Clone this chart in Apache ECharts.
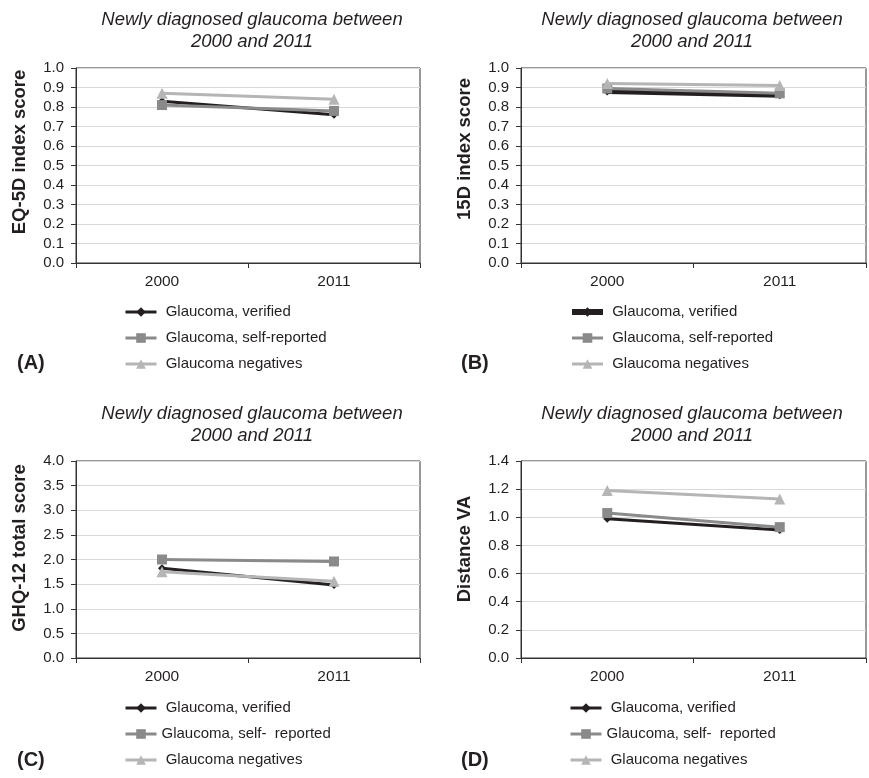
<!DOCTYPE html>
<html><head><meta charset="utf-8">
<script src="https://cdn.jsdelivr.net/npm/echarts@6/dist/echarts.min.js"></script>
<style>html,body{margin:0;padding:0;background:#fff}#c{width:869px;height:778px}</style>
</head><body><div id="c"></div>
<script>
const years = ['2000', '2011'];
const seriesNames = ['Glaucoma, verified', 'Glaucoma, self-reported', 'Glaucoma negatives'];
const legendLabelsAB = [' Glaucoma, verified', ' Glaucoma, self-reported', ' Glaucoma negatives'];
const legendLabelsCD = [' Glaucoma, verified', 'Glaucoma, self-  reported', ' Glaucoma negatives'];
const panelLabels = ['(A)', '(B)', '(C)', '(D)'];
const yTitles = ['EQ-5D index score', '15D index score', 'GHQ-12 total score', 'Distance VA'];
const chartTitle = 'Newly diagnosed glaucoma between\n2000 and 2011';

// Panel A: EQ-5D
const eq5dVerified = [0.83, 0.76];
const eq5dSelf = [0.81, 0.78];
const eq5dNeg = [0.87, 0.84];
// Panel B: 15D
const d15Verified = [0.88, 0.86];
const d15Self = [0.895, 0.87];
const d15Neg = [0.92, 0.91];
// Panel C: GHQ-12
const ghqVerified = [1.82, 1.48];
const ghqSelf = [2.0, 1.96];
const ghqNeg = [1.75, 1.56];
// Panel D: Distance VA
const vaVerified = [0.99, 0.91];
const vaSelf = [1.03, 0.93];
const vaNeg = [1.19, 1.13];

const yMax = [1.0, 1.0, 4.0, 1.4];
const yInterval = [0.1, 0.1, 0.5, 0.2];

const panelData = [
  [eq5dVerified, eq5dSelf, eq5dNeg],
  [d15Verified, d15Self, d15Neg],
  [ghqVerified, ghqSelf, ghqNeg],
  [vaVerified, vaSelf, vaNeg]
];

const FONT = 'Liberation Sans, Arial, sans-serif';
const TXT = '#231f20';
const colors = ['#231f20', '#8a8a8a', '#b5b5b5'];
const symbols = ['diamond', 'rect', 'triangle'];
const symbolSizes = [8, 10, 11];

const grids = [
  {left: 76, top: 68, width: 344, height: 195},
  {left: 521, top: 68, width: 345, height: 195},
  {left: 76, top: 461, width: 344, height: 197},
  {left: 521, top: 461, width: 345, height: 197}
];
const legendPos = [
  {left: 124, top: 304},
  {left: 569, top: 304},
  {left: 124, top: 700},
  {left: 569, top: 700}
];
const titlePos = [[252, 20], [692, 20], [252, 414], [692, 414]];
const yNamePos = [[20, 152], [465, 149], [20, 548], [465, 549]];
const panelLabelPos = [[17, 363], [461, 363], [17, 760], [461, 760]];

const lineW = (i, k) => (i === 1 && k === 0) ? 5 : 3;

const option = {
  animation: false,
  backgroundColor: '#fff',
  grid: grids.map(g => Object.assign({show: true, borderColor: '#333', borderWidth: 1, backgroundColor: 'transparent'}, g)),
  xAxis: grids.map((g, i) => ({
    type: 'category', gridIndex: i, data: years, boundaryGap: true,
    axisLine: {lineStyle: {color: '#333', width: 1}},
    axisTick: {show: true, length: 5, lineStyle: {color: '#333'}},
    axisLabel: {color: TXT, fontSize: 15.5, fontFamily: FONT, margin: 11},
    splitLine: {show: false}
  })),
  yAxis: grids.map((g, i) => ({
    type: 'value', gridIndex: i, min: 0, max: yMax[i], interval: yInterval[i],
    axisLine: {show: true, lineStyle: {color: '#333', width: 1}},
    axisTick: {show: true, length: 5, lineStyle: {color: '#333'}},
    axisLabel: {color: TXT, fontSize: 15, fontFamily: FONT, margin: 12,
      formatter: v => v.toFixed(1)},
    splitLine: {show: true, lineStyle: {color: '#d9d9d9', width: 1}}
  })),
  legend: grids.map((g, i) => ({
    orient: 'vertical', left: legendPos[i].left, top: legendPos[i].top,
    padding: 0, itemGap: 10, itemWidth: 31, itemHeight: 12,
    data: seriesNames.map((n, k) => ({
      name: panelLabels[i] + '::' + n,
      lineStyle: {width: (i === 1 && k === 0) ? 6 : 3, color: colors[k]},
      itemStyle: {color: colors[k]}
    })),
    formatter: name => {
      const k = seriesNames.indexOf(name.split('::')[1]);
      return (i < 2 ? legendLabelsAB : legendLabelsCD)[k];
    },
    textStyle: {color: TXT, fontSize: 15, fontFamily: FONT, lineHeight: 16},
    selectedMode: false
  })),
  series: [],
  graphic: []
};

panelData.forEach((arrs, i) => {
  arrs.forEach((vals, k) => {
    option.series.push({
      type: 'line', name: panelLabels[i] + '::' + seriesNames[k],
      xAxisIndex: i, yAxisIndex: i, data: vals,
      symbol: symbols[k], symbolSize: symbolSizes[k], showSymbol: true,
      lineStyle: {color: colors[k], width: lineW(i, k)},
      itemStyle: {color: colors[k]},
      z: 2 + k
    });
  });
  option.graphic.push({
    type: 'text', x: titlePos[i][0], y: titlePos[i][1] + 10.75,
    style: {text: chartTitle, fill: TXT, font: 'italic 18.5px ' + FONT,
      align: 'center', verticalAlign: 'middle', lineHeight: 21.5}
  });
  option.graphic.push({
    type: 'text', x: yNamePos[i][0], y: yNamePos[i][1], rotation: Math.PI / 2,
    style: {text: yTitles[i], fill: TXT, font: 'bold 18.5px ' + FONT,
      align: 'center', verticalAlign: 'middle'}
  });
  option.graphic.push({
    type: 'text', x: panelLabelPos[i][0], y: panelLabelPos[i][1],
    style: {text: panelLabels[i], fill: TXT, font: 'bold 20px ' + FONT,
      align: 'left', verticalAlign: 'middle'}
  });
});

const chart = echarts.init(document.getElementById('c'), null, {renderer: 'canvas'});
chart.setOption(option);
</script>
</body></html>
